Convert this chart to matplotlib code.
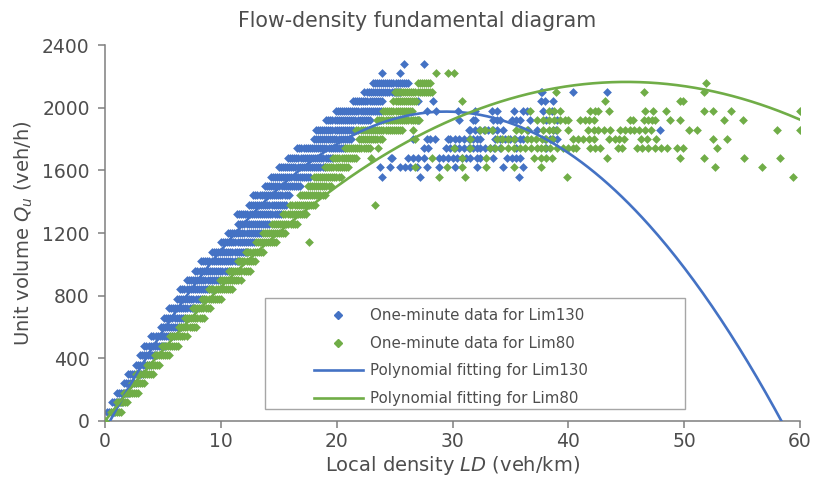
import numpy as np
import matplotlib
matplotlib.use("Agg")
import matplotlib.pyplot as plt
from matplotlib.patches import Rectangle
from matplotlib.lines import Line2D

plt.rcParams['font.family'] = ['DejaVu Sans']
plt.rcParams['mathtext.fontset'] = 'dejavusans'

# rows of one-minute flow (veh/h), with density span of each dense streak
row_flow = [60, 120, 180, 240, 300, 360, 420, 480, 540, 600,
            660, 720, 780, 840, 900, 960, 1020, 1080, 1140, 1200,
            1260, 1320, 1380, 1440, 1500, 1560, 1620, 1680, 1740, 1800,
            1860, 1920, 1980, 2040, 2100, 2160]

lim130_lo = [0.2, 0.6, 1.0, 1.6, 2.0, 2.7, 3.0, 3.4, 4.0, 4.8,
             5.1, 5.5, 6.2, 6.5, 7.05, 7.8, 8.3, 9.2, 10.0, 10.6,
             11.5, 11.4, 12.4, 12.8, 13.8, 14.3, 15.0, 15.8, 16.6, 18.0,
             18.2, 19.1, 19.9, 21.4, 22.4, 23.1]
lim130_hi = [0.9, 1.6, 2.2, 2.8, 3.3, 4.0, 4.6, 5.2, 6.0, 6.6,
             7.05, 7.8, 8.6, 9.2, 10.1, 10.9, 11.7, 12.4, 13.0, 13.5,
             14.3, 15.3, 15.8, 16.0, 17.0, 17.8, 19.0, 19.7, 20.8, 21.4,
             21.5, 23.0, 23.9, 24.0, 25.5, 26.3]

lim80_lo = [0.5, 1.0, 1.6, 2.3, 2.7, 3.6, 4.3, 4.9, 5.6, 6.4,
            6.9, 7.6, 8.4, 9.0, 9.9, 10.7, 11.5, 12.2, 13.0, 13.6,
            14.4, 15.4, 16.0, 16.8, 17.5, 18.0, 19.0, 19.7, 20.7, 21.9,
            21.7, 23.5, 24.0, 24.9, 25.0, 27.0]
lim80_hi = [1.4, 2.0, 2.9, 3.5, 4.2, 4.7, 5.6, 6.5, 7.2, 7.9,
            8.6, 9.2, 10.1, 11.1, 11.7, 12.5, 13.1, 13.8, 14.8, 15.7,
            16.6, 17.5, 18.2, 19.1, 19.6, 20.4, 21.0, 21.8, 23.0, 23.9,
            25.8, 27.2, 26.6, 27.0, 28.3, 28.2]

# isolated points: flow -> densities
lim130_extra = {
    2280: [25.8, 27.5],
    2220: [23.9, 25.5],
    2100: [37.6, 37.7, 40.4, 43.3],
    2040: [27.0, 28.3, 37.6, 38.0, 38.7],
    1980: [27.8, 28.6, 30.5, 31.9, 33.4, 33.8, 35.3, 36.1, 36.4, 37.8, 38.6],
    1920: [27.0, 30.6, 31.8, 31.9, 33.5, 33.8, 34.1, 35.1, 35.5, 35.8, 36.7,
           38.1, 39.0],
    1860: [31.4, 31.5, 31.9, 32.3, 32.7, 33.1, 33.5, 33.8, 34.4, 36.5, 37.3,
           38.7, 38.9, 47.9],
    1800: [26.6, 27.8, 28.1, 28.5, 29.6, 29.8, 30.2, 30.6, 31.0, 31.4, 31.8,
           32.1, 32.4, 33.7, 34.1, 34.5, 35.0, 35.4, 35.8, 36.1, 38.0, 38.4,
           38.7, 39.0],
    1740: [27.5, 27.9, 29.4, 29.8, 30.2, 30.6, 31.0, 31.4, 31.8, 32.1, 32.4,
           32.8, 33.2, 33.6, 34.1, 35.5, 38.1],
    1680: [24.7, 24.8, 26.2, 26.6, 27.0, 27.5, 28.8, 29.2, 29.6, 30.0, 30.4,
           30.8, 31.2, 31.5, 32.1, 32.4, 33.5, 34.7, 35.1, 35.5, 35.8],
    1620: [23.7, 24.6, 25.5, 25.9, 26.3, 26.9, 27.8, 28.8, 30.2, 32.1, 34.4,
           36.1],
    1560: [23.9, 27.2, 35.7],
}
lim80_extra = {
    0: [0.0],
    2220: [28.6, 29.6, 30.1],
    2160: [51.9],
    2100: [38.9, 46.5, 51.7],
    2040: [30.8, 43.2, 49.6, 49.9],
    1980: [36.7, 38.3, 38.8, 39.3, 41.9, 42.3, 42.6, 43.5, 46.6, 47.3, 48.4,
           51.7, 52.5, 54.0, 60.0],
    1920: [37.3, 37.8, 38.3, 38.8, 39.3, 39.7, 40.0, 41.0, 41.4, 41.8, 42.2,
           45.3, 45.6, 46.5, 46.9, 47.2, 47.5, 48.8, 49.6, 53.4, 55.1],
    1860: [26.6, 32.4, 32.8, 33.4, 35.5, 35.9, 36.4, 37.8, 38.3, 38.7, 39.0,
           40.0, 41.7, 42.2, 42.6, 43.1, 43.6, 44.5, 44.9, 45.3, 45.7, 46.1,
           46.6, 47.1, 50.4, 51.1, 58.0, 60.0],
    1800: [26.8, 31.5, 33.8, 34.3, 34.8, 35.3, 36.4, 36.8, 37.2, 37.7, 38.1,
           38.6, 40.4, 40.8, 41.3, 41.8, 42.2, 43.5, 44.0, 44.4, 44.8, 46.3,
           46.8, 47.6, 52.5, 53.7],
    1740: [23.6, 30.1, 31.5, 33.2, 33.7, 34.2, 34.8, 35.3, 35.8, 36.3, 36.8,
           37.3, 37.6, 38.0, 38.4, 39.0, 39.5, 40.0, 40.4, 40.7, 41.9, 42.3,
           42.7, 44.3, 44.6, 45.9, 46.4, 46.9, 47.5, 48.0, 48.5, 49.4, 49.9,
           52.8],
    1680: [23.0, 28.2, 30.8, 32.9, 37.0, 37.6, 38.1, 38.6, 43.3, 49.6, 51.7,
           55.2, 58.3],
    1620: [26.8, 29.5, 30.8, 32.9, 35.3, 37.6, 52.7, 56.7],
    1560: [28.8, 31.1, 39.9, 59.4],
    1380: [23.3],
    1140: [17.6],
}

# polynomial fits (highest power first)
fit130 = [-2.351, 138.3, -59.0]
fit80 = [-1.069, 96.2, 0.0]
fit130_range = [0.43, 58.4]
fit80_range = [0.0, 60.0]

blue = '#4472C4'
green = '#70AD47'
text_col = '#4d4d4d'


def expand(lo, hi, flow, extra):
    xs, ys = [], []
    for a, b, q in zip(lo, hi, flow):
        d = np.arange(a, b + 0.01, 0.18)
        xs.extend(d)
        ys.extend([q] * len(d))
    for q, ds in extra.items():
        xs.extend(ds)
        ys.extend([q] * len(ds))
    return np.array(xs), np.array(ys)


x130, y130 = expand(lim130_lo, lim130_hi, row_flow, lim130_extra)
x80, y80 = expand(lim80_lo, lim80_hi, row_flow, lim80_extra)

fig = plt.figure(figsize=(8.14, 4.83), dpi=100)
ax = fig.add_axes([105 / 814, 62 / 483, 695 / 814, 376 / 483])

ax.scatter(x130, y130, marker='D', s=20, color=blue, linewidths=0, zorder=2)
ax.scatter(x80, y80, marker='D', s=20, color=green, linewidths=0, zorder=3)

xx = np.linspace(fit130_range[0], fit130_range[1], 300)
ax.plot(xx, np.polyval(fit130, xx), color=blue, lw=1.9, zorder=4)
xx = np.linspace(fit80_range[0], fit80_range[1], 300)
ax.plot(xx, np.polyval(fit80, xx), color=green, lw=1.9, zorder=4)

ax.set_xlim(0, 60)
ax.set_ylim(0, 2400)
ax.set_xticks(range(0, 61, 10))
ax.set_yticks(range(0, 2401, 400))
for s in ['top', 'right']:
    ax.spines[s].set_visible(False)
for s in ['left', 'bottom']:
    ax.spines[s].set_color('#7f7f7f')
    ax.spines[s].set_linewidth(1.1)
ax.tick_params(colors='#7f7f7f', labelcolor=text_col, labelsize=13.5,
               length=5, width=1.1, direction='out')
ax.tick_params(axis='y', pad=6)
ax.tick_params(axis='x', pad=3)

ax.set_xlabel(r'Local density $\mathit{LD}$ (veh/km)', fontsize=14,
              color=text_col, labelpad=2)
ax.set_ylabel(r'Unit volume $Q_u$ (veh/h)', fontsize=14, color=text_col,
              labelpad=5)
fig.suptitle('Flow-density fundamental diagram', x=0.512, y=0.978,
             fontsize=14.8, color=text_col)

# legend with its own frame
fig.patches.append(Rectangle((265 / 814, 74 / 483), 420 / 814, 111 / 483,
                             transform=fig.transFigure, fill=True,
                             facecolor='white', edgecolor='#a6a6a6', lw=1.0,
                             zorder=5))
handles = [
    Line2D([], [], ls='none', marker='D', ms=4, color=blue),
    Line2D([], [], ls='none', marker='D', ms=4, color=green),
    Line2D([], [], color=blue, lw=1.9),
    Line2D([], [], color=green, lw=1.9),
]
labels = ['One-minute data for Lim130', 'One-minute data for Lim80',
          'Polynomial fitting for Lim130', 'Polynomial fitting for Lim80']
leg = fig.legend(handles, labels, loc='upper left',
                 bbox_to_anchor=(300 / 814, 1 - 295 / 483), frameon=False,
                 fontsize=10.8, handlelength=3.3, handletextpad=0.5,
                 labelspacing=0.83, labelcolor=text_col)
leg.set_zorder(6)

fig.savefig('out.png', dpi=100)
